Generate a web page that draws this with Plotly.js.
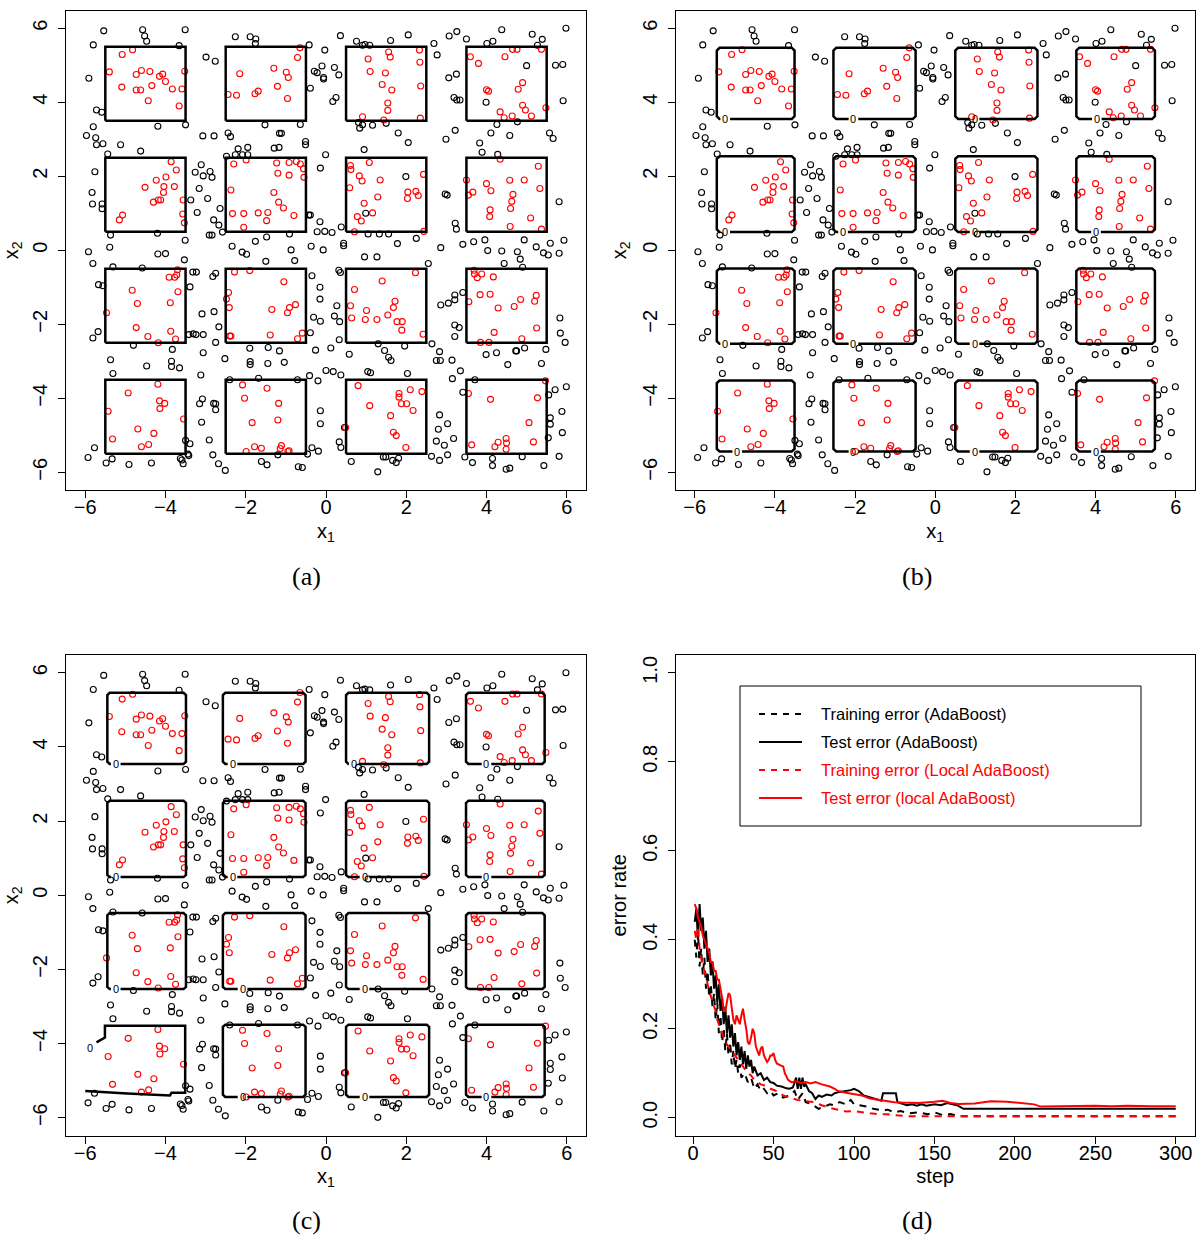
<!DOCTYPE html>
<html><head><meta charset="utf-8">
<script src="https://cdn.plot.ly/plotly-3.0.1.min.js"></script>
<style>html,body{margin:0;padding:0;background:#fff}#chart{width:1198px;height:1236px}</style>
</head><body><div id="chart"></div>
<script>
// ---------- data: sample points (x1, x2) ----------
const blackPoints = [
[-5.54,5.93],[-4.57,5.96],[-4.52,5.79],[-4.47,5.65],[-3.51,5.96],[-5.80,5.55],[-3.66,5.53],[-5.91,4.65],[-5.72,3.79],[-5.59,3.73],[-3.50,3.39],[-4.19,3.35],[-5.80,3.34],[-5.97,3.10],[-5.74,3.04],[-5.72,2.85],[-5.56,2.88],[-5.12,2.85],[-4.62,2.68],[-5.44,2.60],[-2.99,5.22],[-2.76,5.11],[-2.26,5.77],[-1.89,5.77],[-1.75,5.71],[-1.76,5.59],[-0.42,5.55],[-0.03,5.41],[-0.10,4.98],[-0.29,4.84],[-0.22,4.80],[-0.06,4.67],[-0.06,4.63],[-0.39,4.38],[-1.52,3.39],[-0.64,3.40],[-3.07,3.09],[-2.79,3.09],[-2.44,3.17],[-2.38,3.07],[-1.16,3.16],[-1.11,3.16],[-0.51,2.94],[-0.51,2.85],[-2.19,2.74],[-1.95,2.78],[-1.29,2.76],[-1.17,2.78],[-2.48,2.54],[-2.26,2.58],[-2.08,2.58],[-1.95,2.58],[-0.01,2.58],[-0.14,2.22],[-5.76,2.12],[-5.83,1.56],[-5.82,1.25],[-5.58,1.25],[-5.58,1.12],[-3.11,2.31],[-3.26,2.11],[-3.06,2.01],[-2.89,2.13],[-2.84,1.97],[-3.16,1.67],[-3.37,1.36],[-2.95,1.40],[-3.21,1.02],[-2.64,1.13],[-2.80,0.82],[-2.67,0.68],[-2.58,0.49],[-2.91,0.41],[-2.84,0.41],[-5.37,0.41],[-4.20,0.46],[-3.51,0.27],[-5.92,-0.04],[-5.39,0.08],[-4.19,-0.10],[-4.00,-0.09],[-1.76,0.24],[-1.48,0.36],[-0.91,0.44],[-0.43,0.95],[-0.39,0.95],[-0.15,0.77],[-0.22,0.50],[-0.03,0.51],[-0.37,0.11],[-2.34,0.11],[-2.09,-0.05],[-1.98,-0.11],[-0.87,0.01],[-0.07,0.01],
[-5.81,-0.36],[-3.53,-0.26],[-5.31,-0.45],[-4.58,-0.48],[-5.67,-0.93],[-5.56,-0.96],[-3.39,-0.99],[-3.32,-0.59],[-3.23,-0.59],[-2.82,-0.71],[-2.75,-0.62],[-1.50,-0.30],[-0.78,-0.28],[-0.35,-0.69],[-0.15,-1.00],[-0.15,-1.32],[-3.09,-1.72],[-2.79,-1.66],[-2.67,-2.07],[-3.42,-2.28],[-3.31,-2.26],[-3.24,-2.28],[-3.06,-2.28],[-5.68,-2.20],[-5.81,-2.37],[-2.75,-2.49],[-3.06,-2.77],[-4.80,-2.57],[-3.83,-2.68],[-5.37,-2.96],[-4.47,-3.13],[-3.85,-3.00],[-3.85,-3.14],[-3.65,-3.18],[-5.31,-3.33],[-0.31,-1.81],[-0.14,-1.92],[-0.39,-2.23],[-0.26,-2.70],[-2.52,-2.93],[-1.90,-2.65],[-1.44,-2.63],[-1.16,-2.72],[-1.89,-3.01],[-1.89,-3.09],[-1.45,-3.06],[-1.04,-3.03],[-3.12,-3.37],[-2.40,-3.50],[-1.68,-3.46],[-0.71,-3.50],[-0.41,-3.39],[-0.20,-3.53],[0.00,-3.25],[-3.08,-4.02],[-3.15,-4.15],[-2.80,-4.14],[-2.75,-4.15],[-2.75,-4.31],[-3.10,-4.65],[-0.14,-4.34],[-0.14,-4.69],[-2.91,-5.13],[-3.50,-5.14],[-3.39,-5.23],[-3.44,-5.51],[-3.42,-5.55],[-3.63,-5.63],[-3.59,-5.67],[-3.56,-5.77],[-5.77,-5.34],[-5.93,-5.60],[-5.33,-5.64],[-5.48,-5.75],[-4.91,-5.79],[-4.35,-5.75],[-2.82,-5.53],[-2.68,-5.77],[-2.51,-5.95],[-1.61,-5.71],[-1.47,-5.80],[-1.20,-5.53],[-0.46,-5.51],[-0.35,-5.34],[-0.19,-5.43],[-0.69,-5.85],[-0.59,-5.87],
[0.36,5.80],[0.76,5.65],[0.91,5.54],[0.97,5.56],[1.09,5.54],[1.61,5.67],[2.05,5.82],[2.69,5.59],[2.77,5.28],[0.21,4.94],[0.32,4.74],[0.25,4.13],[0.17,4.02],[0.81,3.45],[0.91,3.39],[0.84,3.30],[1.16,3.38],[1.50,3.43],[1.80,3.17],[2.05,2.91],[0.95,2.72],[3.07,5.79],[3.26,5.91],[3.50,5.71],[4.01,5.59],[4.16,5.65],[4.38,5.96],[5.14,5.84],[5.39,5.70],[5.27,5.54],[5.98,6.00],[3.06,4.66],[3.25,4.76],[3.19,4.13],[3.26,4.06],[3.34,4.06],[3.99,4.00],[5.00,4.99],[5.72,5.00],[5.90,5.02],[5.91,4.04],[4.26,3.40],[4.77,3.47],[4.11,3.17],[4.58,3.10],[2.99,3.00],[3.22,3.24],[5.57,3.17],[5.66,3.02],[3.83,2.90],[3.89,2.65],[4.28,2.59],[1.99,1.99],[2.97,1.52],[3.02,1.49],[0.99,1.00],[5.81,1.31],[0.15,0.48],[0.38,0.63],[3.22,0.73],[3.25,0.57],[1.05,0.44],[1.33,0.44],[1.56,0.44],[2.25,0.32],[1.78,0.18],[0.44,0.19],[0.44,0.12],[2.86,0.07],[3.41,0.16],[3.68,0.23],[3.96,0.28],[4.94,0.28],[5.24,0.09],[5.59,0.19],[5.93,0.27],[4.03,-0.01],[4.38,-0.02],[4.77,-0.04],[5.42,-0.07],[5.81,-0.08],[5.54,-0.13],
[0.96,-0.18],[1.27,-0.18],[2.55,-0.36],[0.32,-0.54],[0.36,-0.60],[4.44,-0.36],[4.84,-0.24],[4.90,-0.46],[0.27,-1.50],[0.21,-1.78],[0.34,-1.93],[2.86,-1.48],[3.05,-1.43],[3.21,-1.34],[3.21,-1.21],[3.41,-1.14],[3.21,-2.02],[3.32,-2.09],[3.21,-2.33],[5.83,-1.83],[5.84,-2.24],[5.96,-2.49],[0.12,-2.64],[0.33,-2.42],[0.58,-2.81],[1.30,-2.53],[1.46,-2.71],[1.56,-2.89],[1.62,-2.98],[1.96,-2.59],[2.64,-2.53],[2.83,-2.74],[2.75,-2.98],[2.85,-2.98],[3.14,-2.97],[3.35,-3.26],[3.99,-2.82],[4.25,-2.77],[4.73,-2.72],[4.75,-2.72],[4.95,-2.64],[5.48,-2.68],[4.53,-3.09],[5.37,-3.06],[0.18,-3.28],[0.37,-3.37],[1.04,-3.28],[1.11,-3.31],[2.03,-3.33],[3.15,-3.47],[3.71,-3.50],[3.41,-3.84],[5.71,-3.77],[5.99,-3.69],[5.55,-3.91],[5.88,-4.36],[5.59,-4.53],[5.59,-4.70],[5.89,-4.93],[5.54,-5.07],[5.81,-5.57],[5.43,-5.82],[2.83,-4.45],[3.03,-4.69],[2.80,-4.84],[3.18,-5.09],[2.75,-5.16],[2.95,-5.27],[3.03,-5.53],[2.63,-5.57],[2.83,-5.68],[3.46,-5.59],[3.65,-5.74],[4.15,-5.63],[4.15,-5.82],[4.49,-5.92],[4.58,-5.89],[4.89,-5.58],[0.46,-4.79],[0.33,-5.18],[0.37,-5.33],[0.63,-5.71],[1.29,-5.99],[1.43,-5.59],[1.49,-5.59],[1.66,-5.68],[1.75,-5.74],[1.81,-5.62]
];
const redPoints = [
[-4.82,5.42],[-5.08,5.29],[-5.40,4.82],[-3.52,4.84],[-4.60,4.86],[-4.73,4.75],[-4.39,4.83],[-4.15,4.70],[-4.07,4.76],[-4.00,4.56],[-5.09,4.41],[-4.34,4.45],[-4.73,4.33],[-4.62,4.33],[-3.83,4.36],[-3.59,4.36],[-4.43,4.04],[-3.66,3.90],
[-0.65,5.47],[-0.71,5.21],[-1.30,4.92],[-0.99,4.81],[-0.94,4.67],[-2.15,4.77],[-1.21,4.43],[-2.44,4.21],[-2.23,4.19],[-1.77,4.23],[-1.69,4.30],[-0.96,4.10],
[-3.86,2.39],[-3.73,2.17],[-3.99,1.98],[-4.23,1.89],[-4.51,1.70],[-4.04,1.72],[-3.78,1.72],[-4.05,1.56],[-4.30,1.30],[-4.18,1.36],[-4.12,1.36],[-3.56,1.36],[-5.07,0.95],[-5.15,0.82],[-3.57,0.98],[-3.53,0.74],
[-2.30,2.33],[-1.99,2.44],[-1.23,2.36],[-0.92,2.37],[-0.74,2.40],[-0.64,2.33],[-0.56,2.20],[-1.20,2.08],[-0.92,2.03],[-0.55,1.97],[-2.37,1.63],[-1.30,1.56],[-1.18,1.30],[-1.06,1.14],[-2.33,0.99],[-2.05,0.99],[-1.69,1.01],[-1.45,1.02],[-1.48,0.80],[-0.80,0.94],[-2.05,0.62],
[-3.70,-0.53],[-3.91,-0.73],[-3.77,-0.73],[-3.72,-0.67],[-4.83,-1.08],[-3.69,-1.12],[-4.70,-1.44],[-3.88,-1.42],[-5.47,-1.69],[-4.73,-2.09],[-4.44,-2.33],[-3.87,-2.19],[-3.75,-2.40],[-4.18,-2.50],
[-2.28,-0.59],[-1.90,-0.55],[-1.05,-0.85],[-2.43,-1.14],[-2.48,-1.32],[-2.41,-1.55],[-1.35,-1.60],[-0.91,-1.55],[-0.76,-1.47],[-0.96,-1.69],[-2.40,-2.32],[-2.37,-2.32],[-1.39,-2.29],[-0.59,-2.24],[-0.71,-2.39],
[-4.19,-3.62],[-4.93,-3.86],[-4.15,-4.07],[-4.02,-4.14],[-4.14,-4.28],[-5.43,-4.35],[-3.55,-4.56],[-4.69,-4.83],[-4.29,-4.95],[-5.32,-5.10],[-4.42,-5.25],[-4.60,-5.31],
[-2.08,-3.64],[-1.47,-3.73],[-2.03,-4.00],[-1.18,-4.14],[-1.20,-4.59],[-1.84,-4.66],[-1.78,-5.31],[-1.61,-5.35],[-1.99,-5.44],[-1.11,-5.28],[-1.14,-5.36],[-0.92,-5.42],[-0.95,-5.44],
[1.56,5.36],[1.60,5.22],[1.05,5.17],[2.33,5.41],[2.34,5.08],[1.10,4.83],[1.48,4.79],[1.40,4.48],[1.64,4.33],[2.36,4.44],[1.54,3.98],[1.54,3.78],[0.91,3.61],[1.44,3.52],[2.35,3.57],
[4.65,5.43],[4.76,5.43],[5.37,5.43],[3.60,5.23],[4.46,5.23],[3.80,5.05],[4.90,4.53],[4.79,4.35],[4.00,4.34],[4.05,4.30],[4.90,3.92],[4.97,3.79],[5.48,3.85],[4.34,3.74],[4.44,3.58],[4.64,3.63],[5.12,3.63],
[0.61,2.29],[0.62,2.18],[1.08,2.37],[0.83,2.01],[0.90,1.87],[1.35,1.90],[0.59,1.69],[2.43,2.05],[2.04,1.57],[2.24,1.59],[2.30,1.48],[2.03,1.40],[1.29,1.44],[0.95,1.27],[1.16,1.01],[0.78,0.91],[0.88,0.79],[0.71,0.50],[2.44,0.51],
[4.34,2.46],[5.29,2.27],[3.50,1.90],[4.00,1.80],[4.11,1.61],[4.58,1.89],[4.94,1.90],[5.33,1.67],[3.55,1.49],[3.66,1.57],[4.66,1.51],[4.63,1.32],[4.60,1.13],[4.09,1.09],[4.08,0.91],[5.10,0.87],[4.59,0.64],[5.37,0.57],
[2.23,-0.61],[1.40,-0.83],[0.71,-1.06],[0.61,-1.50],[1.01,-1.63],[1.72,-1.38],[1.68,-1.55],[0.64,-1.83],[0.98,-1.87],[1.27,-1.87],[1.54,-1.75],[1.77,-1.93],[1.90,-1.93],[1.89,-2.16],[2.42,-2.27],
[3.69,-0.54],[3.70,-0.64],[3.77,-0.74],[3.88,-0.64],[4.17,-0.72],[3.84,-1.20],[4.09,-1.19],[3.56,-1.39],[4.29,-1.56],[4.69,-1.52],[4.85,-1.33],[5.24,-1.22],[5.20,-1.38],[5.25,-2.10],[4.19,-2.22],[4.88,-2.39],[3.85,-2.49],[4.06,-2.49],
[0.80,-3.66],[2.10,-3.77],[2.39,-3.82],[1.82,-3.87],[1.82,-3.97],[1.88,-4.15],[2.01,-4.15],[2.17,-4.33],[1.09,-4.20],[1.61,-4.47],[0.49,-4.79],[1.68,-4.92],[1.75,-5.01],[1.99,-5.33],
[5.47,-3.53],[3.55,-3.87],[4.10,-4.03],[5.27,-3.99],[5.06,-4.66],[4.49,-5.09],[4.50,-5.21],[4.29,-5.19],[4.21,-5.31],[4.49,-5.38],[5.17,-5.18],[3.63,-5.26]
];

// ---------- data: class regions (a) and estimated decision boundaries (b), (c) ----------
const cellLo = [-5.5, -2.5, 0.5, 3.5];
const cellHi = [-3.5, -0.5, 2.5, 5.5];
const bXLo = [-5.45, -2.54, 0.50, 3.52], bXHi = [-3.51, -0.49, 2.55, 5.48];
const bYLo = [-5.44, -2.53, 0.49, 3.55], bYHi = [-3.52, -0.49, 2.54, 5.47];
// contour label "0" x-positions, rows from bottom (x2 low) to top
const bLabels = [[-4.94,-2.04,0.98,4.01],[-5.24,-2.04,0.98,null],[-5.24,-2.30,0.98,4.01],[-5.24,-2.04,0.98,4.03]];
const cXLo = [-5.45, -2.57, 0.50, 3.49], cXHi = [-3.49, -0.51, 2.57, 5.45];
const cYLo = [-5.44, -2.53, 0.49, 3.54], cYHi = [-3.49, -0.48, 2.55, 5.46];
const cLabels = [['open',-2.08,0.96,4.00],[-5.24,-2.08,0.96,null],[-5.24,-2.33,0.96,4.00],[-5.24,-2.33,0.69,4.00]];
const cOpenX = [-6.0,-4.95,-3.89,-3.85,-3.51,-3.51,-5.51,-5.51,-5.72];
const cOpenY = [-5.28,-5.35,-5.40,-5.33,-5.33,-3.52,-3.52,-3.84,-3.97];
const cOpenLabel = [-5.87,-4.11];
const coordTicks = [-6,-4,-2,0,2,4,6];

// ---------- data: error curves [step, error rate] ----------
const trainAda = [[1,0.40],[2,0.36],[3,0.42],[4,0.34],[5,0.38],[6,0.32],[7,0.36],[8,0.29],[9,0.33],[10,0.27],[11,0.30],[12,0.25],[13,0.28],[14,0.22],[15,0.26],[16,0.19],[17,0.23],[18,0.17],[19,0.20],[20,0.15],[21,0.19],[22,0.14],[23,0.17],[24,0.12],[25,0.15],[26,0.11],[27,0.13],[28,0.10],[29,0.12],[30,0.09],[32,0.10],[34,0.08],[36,0.09],[38,0.065],[40,0.075],[42,0.06],[44,0.065],[46,0.055],[48,0.06],[50,0.05],[53,0.055],[56,0.045],[60,0.05],[63,0.06],[65,0.04],[68,0.055],[70,0.035],[74,0.03],[78,0.02],[82,0.025],[85,0.03],[88,0.028],[91,0.035],[95,0.03],[98,0.04],[100,0.03],[104,0.028],[108,0.025],[112,0.02],[117,0.017],[121,0.018],[125,0.012],[129,0.015],[134,0.01],[140,0.012],[146,0.008],[150,0.012],[155,0.006],[160,0.008],[165,0.003],[300,0.003]];
const testAda = [[1,0.44],[2,0.47],[3,0.40],[4,0.48],[5,0.42],[6,0.45],[7,0.38],[8,0.42],[9,0.35],[10,0.38],[11,0.32],[12,0.35],[13,0.29],[14,0.32],[15,0.26],[16,0.30],[17,0.24],[18,0.27],[19,0.21],[20,0.25],[21,0.19],[22,0.23],[23,0.18],[24,0.21],[25,0.16],[26,0.19],[27,0.14],[28,0.17],[29,0.13],[30,0.16],[31,0.12],[32,0.15],[33,0.11],[34,0.14],[35,0.115],[36,0.13],[37,0.10],[38,0.115],[40,0.095],[42,0.10],[44,0.085],[46,0.09],[48,0.08],[50,0.078],[52,0.072],[55,0.07],[58,0.066],[60,0.065],[62,0.068],[64,0.09],[65,0.065],[66,0.09],[67,0.065],[68,0.09],[69,0.07],[70,0.075],[72,0.06],[74,0.055],[76,0.042],[78,0.05],[80,0.047],[83,0.052],[86,0.05],[88,0.055],[91,0.058],[95,0.06],[98,0.062],[100,0.065],[103,0.06],[106,0.05],[110,0.045],[114,0.04],[117,0.038],[118,0.055],[126,0.055],[127,0.035],[133,0.028],[136,0.03],[139,0.027],[142,0.03],[145,0.027],[150,0.03],[154,0.028],[158,0.033],[161,0.03],[164,0.028],[168,0.02],[300,0.02]];
const trainLocal = [[1,0.42],[2,0.40],[3,0.43],[4,0.38],[5,0.36],[6,0.34],[7,0.33],[8,0.32],[9,0.30],[10,0.285],[11,0.27],[12,0.26],[13,0.25],[14,0.24],[15,0.22],[16,0.21],[17,0.20],[18,0.19],[19,0.18],[20,0.17],[22,0.16],[24,0.15],[26,0.14],[28,0.13],[30,0.12],[32,0.11],[34,0.10],[36,0.095],[38,0.085],[40,0.08],[42,0.075],[45,0.072],[48,0.065],[52,0.06],[56,0.05],[60,0.045],[65,0.04],[70,0.037],[75,0.035],[80,0.028],[85,0.022],[90,0.018],[95,0.014],[100,0.015],[105,0.012],[110,0.01],[115,0.008],[120,0.008],[125,0.006],[130,0.004],[135,0.003],[300,0.003]];
const testLocal = [[1,0.48],[2,0.47],[3,0.45],[4,0.44],[5,0.43],[6,0.41],[7,0.40],[8,0.39],[9,0.38],[10,0.37],[11,0.35],[12,0.35],[13,0.33],[14,0.33],[15,0.31],[16,0.31],[17,0.29],[18,0.27],[19,0.24],[20,0.24],[21,0.26],[22,0.28],[23,0.275],[24,0.24],[25,0.22],[26,0.21],[27,0.23],[28,0.22],[29,0.21],[30,0.23],[31,0.245],[32,0.22],[33,0.20],[34,0.17],[35,0.165],[36,0.18],[37,0.20],[38,0.19],[39,0.16],[40,0.15],[41,0.14],[42,0.155],[43,0.16],[44,0.14],[45,0.13],[46,0.125],[47,0.13],[48,0.14],[49,0.14],[50,0.145],[51,0.13],[52,0.122],[54,0.118],[56,0.115],[57,0.10],[58,0.092],[59,0.085],[61,0.08],[64,0.082],[67,0.078],[70,0.08],[73,0.077],[76,0.08],[80,0.075],[85,0.07],[88,0.065],[90,0.06],[95,0.056],[100,0.053],[105,0.05],[110,0.043],[115,0.04],[120,0.037],[125,0.035],[130,0.034],[140,0.033],[150,0.036],[155,0.038],[160,0.033],[165,0.031],[175,0.032],[185,0.037],[195,0.036],[205,0.032],[212,0.03],[216,0.025],[230,0.026],[250,0.027],[260,0.026],[270,0.027],[285,0.026],[295,0.027],[300,0.026]];
const stepTicks = [0,50,100,150,200,250,300];
const errTicks = [0,0.2,0.4,0.6,0.8,1.0];
const legendNames = ['Training error (AdaBoost)','Test error (AdaBoost)','Training error (Local AdaBoost)','Test error (local AdaBoost)'];
const legendColors = ['#000000','#000000','#ff0000','#ff0000'];
const legendDash = [true,false,true,false];
const captions = ['(a)','(b)','(c)','(d)'];

// ---------- build ----------
const FONT = 'Liberation Sans, Arial, Helvetica, sans-serif';
const DASH = '7px,6px';
const GAP = 0.12;
const W = 1198, H = 1236;
const colL = [66/W, 586/W], colR = [675.5/W, 1195/W];
const rowT = [1-490/H, 1-10.5/H], rowB = [1-1135.5/H, 1-655/H];

function boundary(xLo,xHi,yLo,yHi,labels,r){
  const xs=[], ys=[], lx=[], ly=[];
  for (let row=0; row<4; row++) for (let col=0; col<4; col++){
    const g = labels ? labels[row][col] : null;
    if (g === 'open') continue;
    const x0=xLo[col], x1=xHi[col], y0=yLo[row], y1=yHi[row];
    const seq = [[g==null ? x0+r : g+GAP, y0],[x1-r,y0],[x1,y0+r],[x1,y1-r],[x1-r,y1],[x0+r,y1],[x0,y1-r],[x0,y0+r],[x0+r,y0]];
    if (g!=null){ seq.push([g-GAP,y0]); lx.push(g); ly.push(y0); }
    seq.forEach(p=>{xs.push(p[0]); ys.push(p[1]);});
    xs.push(null); ys.push(null);
  }
  return {xs, ys, lx, ly};
}

const traces = [];
const annotations = [];
const panels = [
  {xa:'x', ya:'y', b: boundary(cellLo,cellHi,cellLo,cellHi,null,0)},
  {xa:'x2', ya:'y2', b: boundary(bXLo,bXHi,bYLo,bYHi,bLabels,0.07)},
  {xa:'x3', ya:'y3', b: boundary(cXLo,cXHi,cYLo,cYHi,cLabels,0.06), open:true}
];
panels.forEach(p=>{
  traces.push({type:'scatter', mode:'markers', xaxis:p.xa, yaxis:p.ya, x:blackPoints.map(d=>d[0]), y:blackPoints.map(d=>d[1]),
    marker:{symbol:'circle-open', size:6, color:'#000', line:{width:1.1, color:'#000'}}, hoverinfo:'skip', showlegend:false});
  traces.push({type:'scatter', mode:'markers', xaxis:p.xa, yaxis:p.ya, x:redPoints.map(d=>d[0]), y:redPoints.map(d=>d[1]),
    marker:{symbol:'circle-open', size:6, color:'#ff0000', line:{width:1.1, color:'#ff0000'}}, hoverinfo:'skip', showlegend:false});
  let bx = p.b.xs.slice(), by = p.b.ys.slice();
  if (p.open){ bx = bx.concat(cOpenX,[null]); by = by.concat(cOpenY,[null]); p.b.lx.push(cOpenLabel[0]); p.b.ly.push(cOpenLabel[1]); }
  traces.push({type:'scatter', mode:'lines', xaxis:p.xa, yaxis:p.ya, x:bx, y:by, connectgaps:false,
    line:{color:'#000', width:2.5}, hoverinfo:'skip', showlegend:false});
  p.b.lx.forEach((lx,i)=>{
    annotations.push({xref:p.xa, yref:p.ya, x:lx, y:p.b.ly[i], text:'0', showarrow:false, xanchor:'center', yanchor:'middle',
      font:{family:FONT, size:11, color:'#000'}});
  });
});
const series = [trainAda, testAda, trainLocal, testLocal];
series.forEach((s,i)=>{
  traces.push({type:'scatter', mode:'lines', xaxis:'x4', yaxis:'y4', x:s.map(d=>d[0]), y:s.map(d=>d[1]), name:legendNames[i],
    line:{color:legendColors[i], width:2, dash: legendDash[i] ? DASH : 'solid'}, hoverinfo:'skip', showlegend:false});
});

function ax(extra){
  return Object.assign({showline:true, mirror:true, linecolor:'#000', linewidth:1, ticks:'outside', ticklen:7, tickwidth:1,
    tickcolor:'#000', showgrid:false, zeroline:false, automargin:false, fixedrange:true,
    tickfont:{family:FONT, size:20, color:'#000'}}, extra);
}
const R6 = [-6.48, 6.48];
const xt = t => ({text:t, font:{family:FONT, size:20, color:'#000'}, standoff:6});
const XS = -8, YS = 3;
const layout = {
  width:W, height:H, margin:{l:0,r:0,t:0,b:0}, paper_bgcolor:'#fff', plot_bgcolor:'#fff', showlegend:false,
  font:{family:FONT, color:'#000'},
  xaxis: ax({domain:colL, range:R6, anchor:'y', tickvals:coordTicks, ticklabelstandoff:XS, title:xt('x<sub>1</sub>')}),
  yaxis: ax({domain:rowT, range:R6, anchor:'x', tickvals:coordTicks, tickangle:-90, ticklabelstandoff:YS, title:xt('x<sub>2</sub>')}),
  xaxis2: ax({domain:colR, range:R6, anchor:'y2', tickvals:coordTicks, ticklabelstandoff:XS, title:xt('x<sub>1</sub>')}),
  yaxis2: ax({domain:rowT, range:R6, anchor:'x2', tickvals:coordTicks, tickangle:-90, ticklabelstandoff:YS, title:xt('x<sub>2</sub>')}),
  xaxis3: ax({domain:colL, range:R6, anchor:'y3', tickvals:coordTicks, ticklabelstandoff:XS, title:xt('x<sub>1</sub>')}),
  yaxis3: ax({domain:rowB, range:R6, anchor:'x3', tickvals:coordTicks, tickangle:-90, ticklabelstandoff:YS, title:xt('x<sub>2</sub>')}),
  xaxis4: ax({domain:colR, range:[-10.96,311.96], anchor:'y4', tickvals:stepTicks, ticklabelstandoff:XS, title:xt('step')}),
  yaxis4: ax({domain:rowB, range:[-0.04,1.04], anchor:'x4', tickvals:errTicks, tickformat:'.1f', tickangle:-90, ticklabelstandoff:YS, title:xt('error rate')}),
  shapes: [], annotations: annotations
};
// legend of panel (d): box 740..1141 px wide, 686..826 px tall
const dX0 = 675.5, dW = 1195-675.5, dY0 = 1135.5, dH = 1135.5-655;
const px2dx = p => (p-dX0)/dW, py2dy = p => (dY0-p)/dH;
layout.shapes.push({type:'rect', xref:'x4 domain', yref:'y4 domain', x0:px2dx(740), x1:px2dx(1141), y0:py2dy(826), y1:py2dy(686),
  line:{color:'#000', width:1}, fillcolor:'rgba(0,0,0,0)'});
const rowsPx = [714, 742, 770, 798];
legendNames.forEach((n,i)=>{
  const y = py2dy(rowsPx[i]);
  layout.shapes.push({type:'line', xref:'x4 domain', yref:'y4 domain', x0:px2dx(759), x1:px2dx(802), y0:y, y1:y,
    line:{color:legendColors[i], width:2, dash: legendDash[i] ? '6px,6px' : 'solid'}});
  layout.annotations.push({xref:'x4 domain', yref:'y4 domain', x:px2dx(819), y:y, xanchor:'left', yanchor:'middle',
    text:n, showarrow:false, font:{family:FONT, size:16.5, color:legendColors[i]}});
});
// panel captions
const capX = [307, 917, 307, 917], capY = [576, 576, 1220, 1220];
captions.forEach((c,i)=>{
  layout.annotations.push({xref:'paper', yref:'paper', x:capX[i]/W, y:1-capY[i]/H, xanchor:'center', yanchor:'middle',
    text:c, showarrow:false, font:{family:'Liberation Serif, DejaVu Serif, serif', size:26, color:'#000'}});
});
Plotly.newPlot('chart', traces, layout, {staticPlot:true, displayModeBar:false});
</script></body></html>
